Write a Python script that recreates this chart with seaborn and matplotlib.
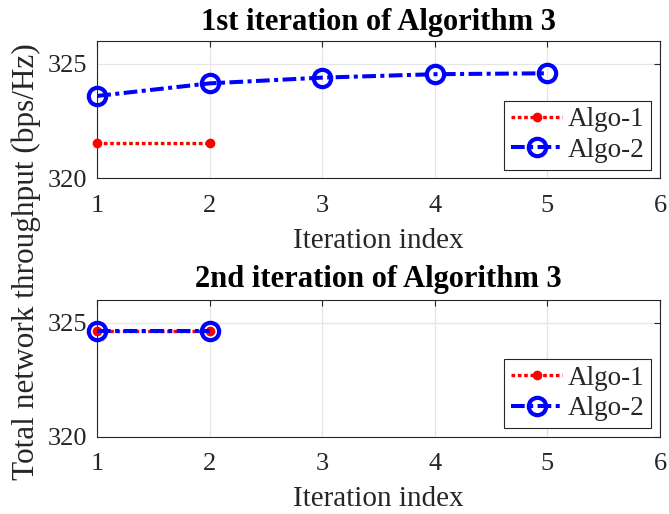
import matplotlib
matplotlib.use("Agg")
import matplotlib.pyplot as plt
import seaborn as sns
import pandas as pd

sns.set_theme(style="whitegrid")
plt.rcParams["font.family"] = ["Liberation Serif", "DejaVu Serif"]

# Throughput per iteration for each run of Algorithm 3
iter1_algo1_x = [1, 2]
iter1_algo1_y = [321.53, 321.53]
iter1_algo2_x = [1, 2, 3, 4, 5]
iter1_algo2_y = [323.6, 324.15, 324.4, 324.55, 324.59]

iter2_algo1_x = [1, 2]
iter2_algo1_y = [324.62, 324.62]
iter2_algo2_x = [1, 2]
iter2_algo2_y = [324.66, 324.66]

titles = ["1st iteration of Algorithm 3", "2nd iteration of Algorithm 3"]
x_ticks = [1, 2, 3, 4, 5, 6]
y_ticks = [320, 325]

panels = [
    (iter1_algo1_x, iter1_algo1_y, iter1_algo2_x, iter1_algo2_y),
    (iter2_algo1_x, iter2_algo1_y, iter2_algo2_x, iter2_algo2_y),
]

DARK = "#262626"

fig = plt.figure(figsize=(6.69, 5.14), dpi=100)
ax_top = fig.add_axes([0.1454, 0.6531, 0.8411, 0.2671])
ax_bot = fig.add_axes([0.1454, 0.1504, 0.8411, 0.2659])

for ax, title, tpad, (x1, y1, x2, y2) in zip([ax_top, ax_bot], titles, [8, 9.5], panels):
    d1 = pd.DataFrame({"x": x1, "y": y1})
    d2 = pd.DataFrame({"x": x2, "y": y2})
    sns.lineplot(data=d1, x="x", y="y", ax=ax, color="#ff0000", lw=2.4,
                 linestyle=(0, (1.1, 0.8)), marker="o", markersize=7,
                 markeredgewidth=0, label="Algo-1", zorder=3, clip_on=False)
    sns.lineplot(data=d2, x="x", y="y", ax=ax, color="#0000ff", lw=2.9,
                 linestyle=(0, (3.4, 1.1, 1.0, 1.1)), marker="o", markersize=12.5,
                 markerfacecolor="none", markeredgecolor="#0000ff",
                 markeredgewidth=3.0, label="Algo-2", zorder=4, clip_on=False)
    ax.set_xlim(1, 6)
    ax.set_ylim(320, 326)
    ax.set_xticks(x_ticks)
    ax.set_yticks(y_ticks)
    ax.set_xlabel("Iteration index", fontsize=21, labelpad=8, color=DARK)
    ax.set_ylabel("")
    ax.set_title(title, fontsize=22, fontweight="bold", pad=tpad, color="black")
    ax.grid(True, color="#e5e5e5", lw=0.9)
    ax.tick_params(axis="both", labelsize=19, direction="in", length=4.5,
                   width=0.8, color=DARK, top=True, right=True,
                   labelcolor=DARK)
    ax.tick_params(axis="x", pad=12)
    ax.tick_params(axis="y", pad=7.5)
    for s in ax.spines.values():
        s.set_visible(True)
        s.set_color(DARK)
        s.set_linewidth(0.8)
    ax.set_facecolor("white")
    leg = ax.legend(loc="lower right", fontsize=19.5, frameon=True,
                    fancybox=False, edgecolor=DARK, framealpha=1,
                    handlelength=1.9, handletextpad=0.2, borderpad=0.25,
                    labelspacing=0.2, borderaxespad=0.32)
    leg.get_frame().set_linewidth(0.8)

fig.text(0.0396, 0.491, "Total network throughput (bps/Hz)", rotation=90,
         va="center", ha="center", fontsize=22.5, color=DARK)

fig.savefig("out.png", dpi=100, facecolor="white")
